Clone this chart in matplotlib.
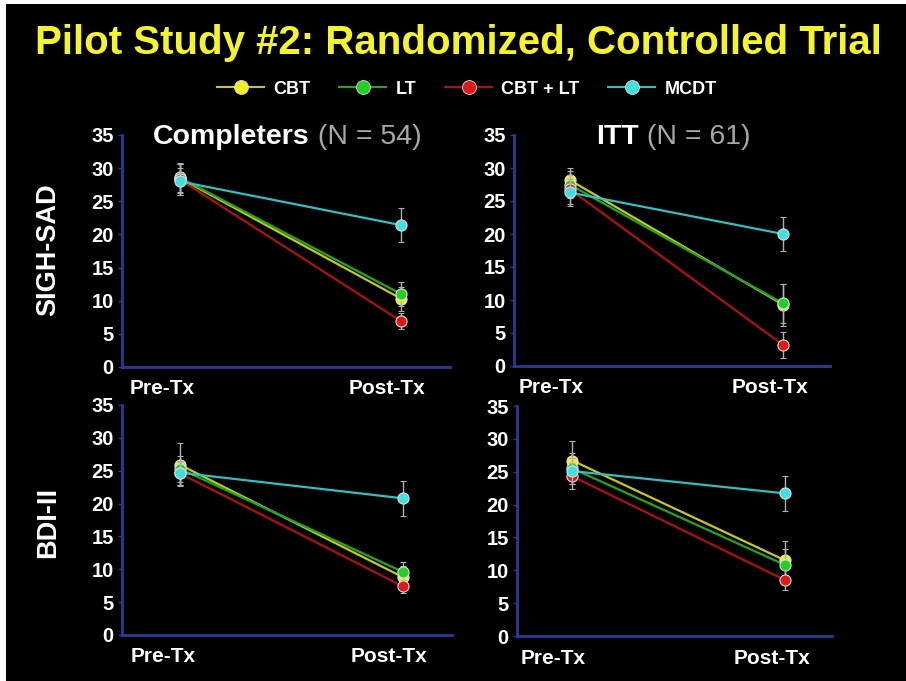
import matplotlib
matplotlib.use("Agg")
import matplotlib.pyplot as plt
import matplotlib.transforms as mtransforms
from matplotlib.patches import Rectangle
from matplotlib.lines import Line2D

plt.rcParams['font.family'] = ['Liberation Sans', 'DejaVu Sans']

# Data
groups = ["CBT", "LT", "CBT + LT", "MCDT"]
timepoints = ["Pre-Tx", "Post-Tx"]

sigh_comp_pre = [28.5, 28.6, 28.3, 28.0]
sigh_comp_post = [10.3, 11.0, 6.9, 21.4]
sigh_comp_pre_err = [2.2, 2.2, 2.3, 2.0]
sigh_comp_post_err = [1.8, 1.8, 1.2, 2.6]

sigh_itt_pre = [28.2, 27.5, 26.8, 26.3]
sigh_itt_post = [9.3, 9.5, 3.2, 20.0]
sigh_itt_pre_err = [1.8, 2.0, 2.2, 2.0]
sigh_itt_post_err = [3.2, 3.0, 2.0, 2.6]

bdi_comp_pre = [25.9, 25.3, 24.6, 24.7]
bdi_comp_post = [8.8, 9.6, 7.4, 20.8]
bdi_comp_pre_err = [3.3, 2.0, 1.8, 1.8]
bdi_comp_post_err = [1.7, 1.5, 1.0, 2.7]

bdi_itt_pre = [26.7, 25.5, 24.3, 25.1]
bdi_itt_post = [11.5, 10.8, 8.5, 21.7]
bdi_itt_pre_err = [3.0, 2.3, 2.0, 2.0]
bdi_itt_post_err = [3.0, 2.5, 1.5, 2.7]

yticks = [0, 5, 10, 15, 20, 25, 30, 35]

marker_colors = ['#f0f020', '#22d022', '#e01818', '#40e0e0']
line_colors = ['#c8c818', '#1ea81e', '#b01010', '#30c0c0']
spine_color = '#2a3a9a'

W, H = 906, 681
fig = plt.figure(figsize=(W / 100, H / 100), dpi=100, facecolor='white')
fig.patches.append(Rectangle((6 / W, 0), 1, 1 - 4 / H, transform=fig.transFigure,
                             facecolor='black', edgecolor='none', zorder=-10))


def px_axes(left, top, right, bottom):
    return fig.add_axes([left / W, 1 - bottom / H, (right - left) / W, (bottom - top) / H])


def panel(ax, pre, post, pre_err, post_err, label_shift):
    ax.set_facecolor('black')
    ax.patch.set_alpha(0)
    for i in range(len(groups)):
        ax.plot([0, 1], [pre[i], post[i]], color=line_colors[i], lw=1.6, zorder=2)
    for i in range(len(groups)):
        ax.errorbar([0, 1], [pre[i], post[i]], yerr=[pre_err[i], post_err[i]],
                    fmt='o', ms=8, color=marker_colors[i], mfc=marker_colors[i],
                    mec='#dddddd', mew=0.8, ecolor='#b0b0b0', elinewidth=1,
                    capsize=2, zorder=3 + i)
    ax.set_ylim(0, 35)
    ax.set_xlim(-0.26, 1.22)
    ax.set_yticks(yticks)
    ax.set_xticks([0, 1])
    ax.set_xticklabels(timepoints)
    for s in ['top', 'right']:
        ax.spines[s].set_visible(False)
    for s in ['left', 'bottom']:
        ax.spines[s].set_color(spine_color)
        ax.spines[s].set_linewidth(2)
    ax.tick_params(axis='y', colors='white', labelsize=14.5, length=3, width=1,
                   color=spine_color, pad=3)
    ax.tick_params(axis='x', colors='white', labelsize=15, length=0, pad=9)
    for lab in ax.get_xticklabels() + ax.get_yticklabels():
        lab.set_fontweight('bold')
    for lab, dx in zip(ax.get_xticklabels(), label_shift):
        lab.set_transform(lab.get_transform() +
                          mtransforms.ScaledTranslation(dx / 100, 0, fig.dpi_scale_trans))


ax1 = px_axes(122, 135, 450, 367)
ax2 = px_axes(514, 135, 830, 366)
ax3 = px_axes(122, 405, 452, 635)
ax4 = px_axes(517, 406, 832, 636)

panel(ax1, sigh_comp_pre, sigh_comp_post, sigh_comp_pre_err, sigh_comp_post_err, (-17, -14))
panel(ax2, sigh_itt_pre, sigh_itt_post, sigh_itt_pre_err, sigh_itt_post_err, (-18, -13))
panel(ax3, bdi_comp_pre, bdi_comp_post, bdi_comp_pre_err, bdi_comp_post_err, (-17, -14))
panel(ax4, bdi_itt_pre, bdi_itt_post, bdi_itt_pre_err, bdi_itt_post_err, (-19, -13))

# Panel titles
t1 = fig.text(153 / W, 1 - 137 / H, "Completers", color='white', fontsize=20.5,
              fontweight='bold', ha='left', va='center')
ax1.annotate(" (N = 54)", xy=(1, 0.5), xycoords=t1, va='center', ha='left',
             color='#a8a8a8', fontsize=20.5, annotation_clip=False)
t2 = fig.text(596 / W, 1 - 137 / H, "ITT", color='white', fontsize=20.5,
              fontweight='bold', ha='left', va='center')
ax2.annotate(" (N = 61)", xy=(1, 0.5), xycoords=t2, va='center', ha='left',
             color='#a8a8a8', fontsize=20.5, annotation_clip=False)

# Row labels
fig.text(48 / W, 1 - 250 / H, "SIGH-SAD", color='white', fontsize=19.5,
         fontweight='bold', rotation=90, ha='center', va='center')
fig.text(48 / W, 1 - 522 / H, "BDI-II", color='white', fontsize=19.5,
         fontweight='bold', rotation=90, ha='center', va='center')

# Title
fig.text(458 / W, 1 - 43 / H, "Pilot Study #2: Randomized, Controlled Trial",
         color='#f4f426', fontsize=29, fontweight='bold', ha='center', va='center')

# Legend
handles = [Line2D([0], [0], color=line_colors[i], lw=1.5, marker='o', ms=10,
                  mfc=marker_colors[i], mec='#dddddd', mew=0.6)
           for i in range(len(groups))]
leg = fig.legend(handles, groups, loc='center', bbox_to_anchor=(467 / W, 1 - 89 / H),
                 ncol=4, frameon=False, handlelength=2.6, columnspacing=1.6,
                 handletextpad=0.5, fontsize=13)
for txt in leg.get_texts():
    txt.set_color('white')
    txt.set_fontweight('bold')

fig.savefig("out.png", dpi=100, facecolor=fig.get_facecolor())
